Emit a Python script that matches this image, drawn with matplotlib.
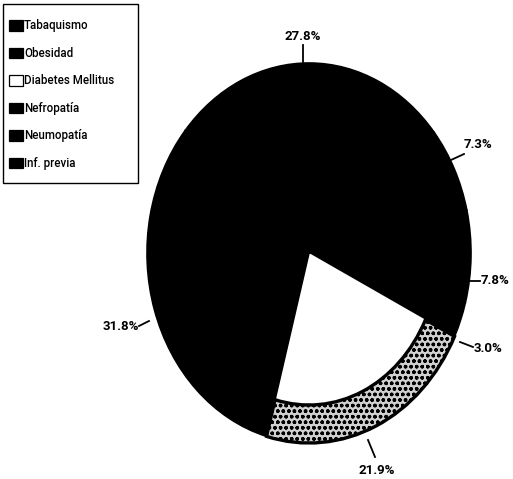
import matplotlib
matplotlib.use("Agg")
import matplotlib.pyplot as plt
from matplotlib.patches import Wedge, Patch, Rectangle
from matplotlib.lines import Line2D

# ---- data ----
categories = ["Tabaquismo", "Obesidad", "Diabetes Mellitus", "Nefropatía", "Neumopatía", "Inf. previa"]
values = [7.8, 3.0, 21.9, 31.8, 27.8, 7.3]
labels = ["7.8%", "3.0%", "21.9%", "31.8%", "27.8%", "7.3%"]

# ---- style / layout ----
W, H = 513, 479
FONT = ['Roboto', 'DejaVu Sans']
plt.rcParams['font.family'] = FONT
colors = ["black", "black", "white", "black", "black", "black"]
CX, CY, RX, RY = 309, 253, 162, 190  # pie centre/radii in pixels

fig = plt.figure(figsize=(W / 100, H / 100), dpi=100)
ax = fig.add_axes([0, 0, 1, 1])

wedges, _ = ax.pie(values, colors=colors, startangle=13, counterclock=False,
                   radius=1.0, wedgeprops=dict(edgecolor="black", linewidth=1.2))
ax.set_aspect("auto")
ax.set_xlim(-CX / RX, (W - CX) / RX)
ax.set_ylim(-(H - CY) / RY, CY / RY)
ax.axis("off")

# Diabetes slice: white top face + stippled side band
dm = wedges[2]
dm.set_radius(0.80)
dm.set_edgecolor("white")
dm.set_linewidth(0)
band = Wedge((0, 0), 1.0, dm.theta1, dm.theta2, width=0.20,
             facecolor="#d0d0d0", edgecolor="black", hatch="ooo", linewidth=2.4)
ax.add_patch(band)

# label layout in pixels: (text x, text y, ha, line x0, y0, x1, y1)
label_layout = [
    (481, 281, "left", 470, 281, 480, 281),
    (474, 349, "left", 460, 342, 473, 347),
    (377, 470, "center", 368, 440, 375, 457),
    (139, 327, "right", 149, 321, 139, 326),
    (303, 36, "center", 303, 62, 303, 45),
    (464, 145, "left", 451, 160, 464, 154),
]

def fx(px):
    return px / W

def fy(py):
    return 1 - py / H

for lab, (tx, ty, ha, x0, y0, x1, y1) in zip(labels, label_layout):
    fig.text(fx(tx), fy(ty), lab, ha=ha, va="center",
             fontsize=9.5, fontweight="bold", family=FONT)
    fig.add_artist(Line2D([fx(x0), fx(x1)], [fy(y0), fy(y1)],
                          color="black", linewidth=1.3))

# legend box
fig.add_artist(Rectangle((fx(3), fy(183)), fx(138) - fx(3), fy(4) - fy(183),
                         transform=fig.transFigure, facecolor="white",
                         edgecolor="black", linewidth=1.0, zorder=4))
handles = [Patch(facecolor=c, edgecolor="black", linewidth=0.9) for c in colors]
leg = fig.legend(handles, categories, loc="upper left",
                 bbox_to_anchor=(fx(3), fy(13)),
                 frameon=False, handlelength=1.15, handleheight=1.0,
                 handletextpad=0.12, labelspacing=1.26, borderpad=0.55,
                 borderaxespad=0.0, prop=dict(family=FONT, size=8.3, weight="medium"))
leg.set_zorder(5)

fig.savefig("out.png", dpi=100)
